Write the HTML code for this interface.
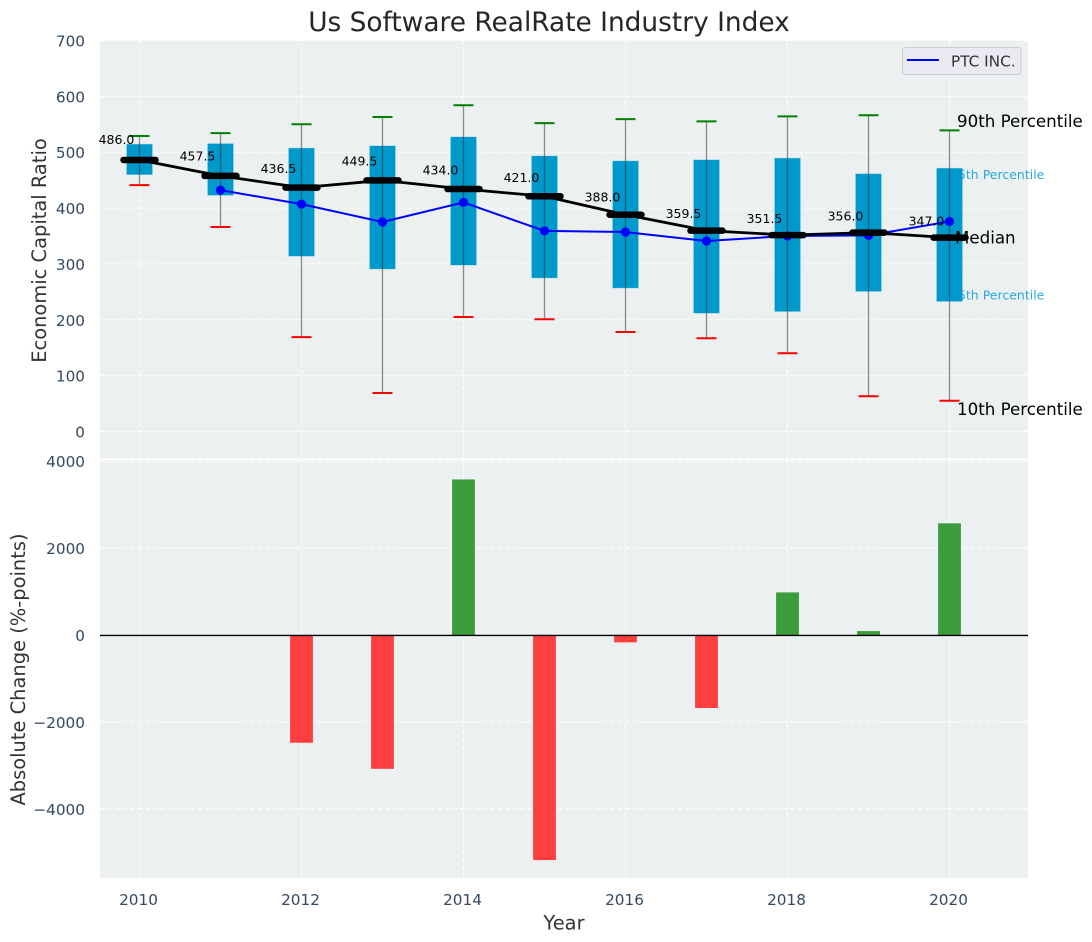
<!DOCTYPE html>
<html>
<head>
<meta charset="utf-8">
<style>
html,body{margin:0;padding:0;background:#fff;}
svg{display:block;font-family:"DejaVu Sans","Liberation Sans",sans-serif;}
</style>
</head>
<body>
<svg id="chart" width="1092" height="942" viewBox="0 0 1092 942" xmlns="http://www.w3.org/2000/svg"></svg>
<script>
const years = [2010,2011,2012,2013,2014,2015,2016,2017,2018,2019,2020];
const p90 = [529,534,550,563,584,552,559,555,564,566,539];
const p75 = [514,515,507,511,527,493,484,486,489,461,471];
const medians = [486,457.5,436.5,449.5,434,421,388,359.5,351.5,356,347];
const p25 = [460,423,314,291,298,275,257,212,215,251,233];
const p10 = [441,366,169,69,205,201,178,167,140,63,55];
const ptcYears = [2011,2012,2013,2014,2015,2016,2017,2018,2019,2020];
const ptcValues = [432,407,375,410,359,357,341,350,351,376];
const changeYears = [2012,2013,2014,2015,2016,2017,2018,2019,2020];
const changeValues = [-2480,-3080,3580,-5180,-170,-1680,980,90,2570];
const xTicks = [2010,2012,2014,2016,2018,2020];
const xGrid = [2010,2012,2014,2016,2018,2020];
const topTicks = [0,100,200,300,400,500,600,700];
const bottomTicks = [-4000,-2000,0,2000,4000];

const NS = 'http://www.w3.org/2000/svg';
const svg = document.getElementById('chart');
const L = 100, R = 1028, T1 = 40, B1 = 458.5, T2 = 460, B2 = 878;
const xs = v => 139.5 + (v - 2010) * 81;
const yTop = v => 431.5 - v * 0.5587;
const yBot = v => 635 - v * 0.04345;
function el(tag, attrs, parent) {
  const e = document.createElementNS(NS, tag);
  for (const k in attrs) e.setAttribute(k, attrs[k]);
  (parent || svg).appendChild(e);
  return e;
}
function txt(s, attrs, parent) {
  const e = el('text', attrs, parent);
  e.textContent = s;
  return e;
}
const fmtTick = v => (v < 0 ? '\u2212' + Math.abs(v) : String(v));

// panels
let node = el('rect', {x:L, y:T1, width:R-L, height:B1-T1, fill:'#ecf0f1'});


node = el('rect', {x:L, y:T2, width:R-L, height:B2-T2, fill:'#ecf0f1'});



// grid
const gridStyle = {stroke:'#ffffff', 'stroke-width':1.1, 'stroke-dasharray':'5 2.5', opacity:0.9};
xGrid.forEach(v => {
  node = el('line', Object.assign({x1:xs(v), x2:xs(v), y1:T1, y2:B1}, gridStyle));
  
  
  node = el('line', Object.assign({x1:xs(v), x2:xs(v), y1:T2, y2:B2}, gridStyle));
  
  
});
topTicks.forEach(v => {
  node = el('line', Object.assign({x1:L, x2:R, y1:yTop(v), y2:yTop(v)}, gridStyle));
  
  
});
bottomTicks.forEach(v => {
  node = el('line', Object.assign({x1:L, x2:R, y1:yBot(v), y2:yBot(v)}, gridStyle));
  
  
});

// tick labels
const tickColor = '#34495e';
topTicks.forEach(v => {
  node = txt(fmtTick(v), {x:85, y:yTop(v)+6, 'text-anchor':'end', 'font-size':15.28, fill:tickColor});
  
  
});
bottomTicks.forEach(v => {
  node = txt(fmtTick(v), {x:85, y:yBot(v)+6, 'text-anchor':'end', 'font-size':15.28, fill:tickColor});
  
  
});
xTicks.forEach(v => {
  node = txt(String(v), {x:xs(v)-1, y:905, 'text-anchor':'middle', 'font-size':15.28, fill:tickColor});
  
  
});

// annotations drawn beneath the boxes
const pctColor = '#2baad6';
const last = years.length - 1;
node = txt('75th Percentile', {x:xs(years[last])+0.5, y:179, 'font-size':12.5, fill:pctColor});


node = txt('25th Percentile', {x:xs(years[last])+0.5, y:299.5, 'font-size':12.5, fill:pctColor});



// boxes
years.forEach((yr, i) => {
  node = el('rect', {x:xs(yr)-12.75, y:yTop(p75[i]), width:25.5, height:yTop(p25[i])-yTop(p75[i]), fill:'#0099cc', stroke:'#0099cc', 'stroke-opacity':0.3, 'stroke-width':1});
  
  
});
// whiskers and caps
years.forEach((yr, i) => {
  node = el('line', {x1:xs(yr), x2:xs(yr), y1:yTop(p90[i]), y2:yTop(p10[i]), stroke:'#333333', 'stroke-opacity':0.55, 'stroke-width':1.3});
  
  
  node = el('line', {x1:xs(yr)-10, x2:xs(yr)+10, y1:yTop(p90[i]), y2:yTop(p90[i]), stroke:'#008000', 'stroke-width':2});
  
  
  node = el('line', {x1:xs(yr)-10, x2:xs(yr)+10, y1:yTop(p10[i]), y2:yTop(p10[i]), stroke:'#ff0000', 'stroke-width':2});
  
  
});

// PTC line
node = el('polyline', {points:ptcYears.map((yr,i)=>xs(yr)+','+yTop(ptcValues[i])).join(' '), fill:'none', stroke:'#0000ff', 'stroke-width':2});


ptcYears.forEach((yr, i) => {
  node = el('circle', {cx:xs(yr), cy:yTop(ptcValues[i]), r:4.6, fill:'#0000ff'});
  
  
});

// median line and markers
node = el('polyline', {points:years.map((yr,i)=>xs(yr)+','+yTop(medians[i])).join(' '), fill:'none', stroke:'#000', 'stroke-width':2.8});


years.forEach((yr, i) => {
  node = el('line', {x1:xs(yr)-16, x2:xs(yr)+16, y1:yTop(medians[i]), y2:yTop(medians[i]), stroke:'#000', 'stroke-width':6.5, 'stroke-linecap':'round'});
  
  
});

// median value labels, anchored just above 1.05 x the median
years.forEach((yr, i) => {
  node = txt(medians[i].toFixed(1), {x:xs(yr)-23, y:yTop(medians[i]*1.05)-2.4, 'text-anchor':'middle', 'font-size':12.5, fill:'#000'});
  
  
});

// percentile annotations on top
node = txt('90th Percentile', {x:957, y:127, 'font-size':16.67, fill:'#000'});


node = txt('Median', {x:955, y:243.5, 'font-size':16.67, fill:'#000'});


node = txt('10th Percentile', {x:957, y:415, 'font-size':16.67, fill:'#000'});



// change bars
changeYears.forEach((yr, i) => {
  const v = changeValues[i];
  const y0 = yBot(Math.max(v, 0)), y1 = yBot(Math.min(v, 0));
  node = el('rect', {x:xs(yr)-11.4, y:y0, width:22.8, height:y1-y0, fill:v >= 0 ? '#3b9c3c' : '#ff3f3f'});
  
  
});
node = el('line', {x1:L, x2:R, y1:yBot(0)+0.4, y2:yBot(0)+0.4, stroke:'#000', 'stroke-width':1.4});



// legend
const legend = el('g', {});


el('rect', {x:902.5, y:47.5, width:118.5, height:27, rx:3, fill:'#eaeaf2', stroke:'#cccccc', 'stroke-width':1}, legend);
node = el('line', {x1:907, x2:939, y1:60, y2:60, stroke:'#0000ff', 'stroke-width':2}, legend);


node = txt('PTC INC.', {x:951, y:66.5, 'font-size':15.28, fill:'#333'}, legend);



// titles
node = txt('Us Software RealRate Industry Index', {x:549, y:31, 'text-anchor':'middle', 'font-size':26.4, fill:'#262626'});


node = txt('Economic Capital Ratio', {x:0, y:0, transform:'translate(46,250.5) rotate(-90)', 'text-anchor':'middle', 'font-size':19.44, fill:'#333'});


node = txt('Absolute Change (%-points)', {x:0, y:0, transform:'translate(25,669.5) rotate(-90)', 'text-anchor':'middle', 'font-size':19.44, fill:'#333'});


node = txt('Year', {x:564, y:929.5, 'text-anchor':'middle', 'font-size':19.44, fill:'#333'});


</script>
</body>
</html>
